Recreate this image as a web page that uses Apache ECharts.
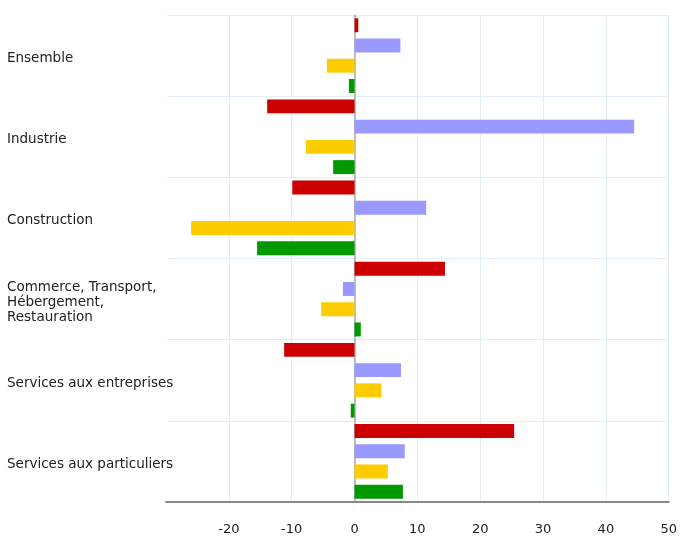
<!DOCTYPE html>
<html>
<head>
<meta charset="utf-8">
<script src="https://cdn.jsdelivr.net/npm/echarts@6/dist/echarts.min.js"></script>
<style>html,body{margin:0;padding:0;background:#fff}#c{width:680px;height:536px}</style>
</head>
<body>
<div id="c"></div>
<script>
const categories = [
  "Ensemble",
  "Industrie",
  "Construction",
  "Commerce, Transport,\nHébergement,\nRestauration",
  "Services aux entreprises",
  "Services aux particuliers"
];
const seriesRed = [0.6, -13.9, -9.9, 14.4, -11.2, 25.4];
const seriesLavender = [7.3, 44.5, 11.4, -1.85, 7.4, 8.0];
const seriesYellow = [-4.4, -7.75, -26.0, -5.3, 4.3, 5.3];
const seriesGreen = [-0.9, -3.4, -15.5, 1.0, -0.6, 7.7];
const xTicks = [-30, -20, -10, 0, 10, 20, 30, 40, 50];

const colors = ["#cc0000", "#9999ff", "#ffcc00", "#009900"];
const grid = "#e3edf8";
const chart = echarts.init(document.getElementById('c'));
const mk = (name, data, color) => ({
  name, type: 'bar', data, barCategoryGap: '8%', barGap: '45%',
  itemStyle: { color }, animation: false
});
const labelFont = { color: '#222', fontSize: 13.5, fontFamily: 'DejaVu Sans', lineHeight: 15 };
chart.setOption({
  animation: false,
  grid: { left: 166, right: 9, top: 15, bottom: 32, containLabel: false },
  xAxis: {
    type: 'value', min: xTicks[0], max: xTicks[xTicks.length - 1], interval: 10,
    axisLine: { show: true, onZero: false, lineStyle: { color: '#888', width: 2 } },
    axisTick: { show: false },
    axisLabel: { showMinLabel: false, margin: 21, color: '#222', fontSize: 13, fontFamily: 'DejaVu Sans' },
    splitLine: { show: true, lineStyle: { color: ['#ffffff', grid, grid, grid, grid, grid, grid, grid, grid], width: 1 } }
  },
  yAxis: {
    type: 'category', data: categories, inverse: true,
    axisLine: { show: true, onZero: true, lineStyle: { color: '#aaa', width: 1.5 } },
    axisTick: { show: false },
    axisLabel: {
      align: 'left', margin: 159, ...labelFont,
      formatter: v => '{s| }\n' + v.split('\n').map(l => '{a|' + l + '}').join('\n'),
      rich: {
        s: { fontSize: 1, lineHeight: 6, align: 'left' },
        a: { ...labelFont, align: 'left' }
      }
    },
    splitLine: { show: true, lineStyle: { color: grid, width: 1 } }
  },
  series: [
    mk('s1', seriesRed, colors[0]),
    mk('s2', seriesLavender, colors[1]),
    mk('s3', seriesYellow, colors[2]),
    mk('s4', seriesGreen, colors[3])
  ]
});
</script>
</body>
</html>
